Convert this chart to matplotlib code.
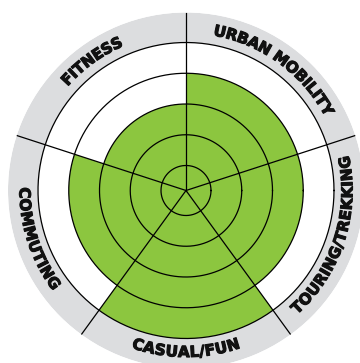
import numpy as np
import matplotlib
matplotlib.use("Agg")
import matplotlib.pyplot as plt
import matplotlib.patheffects as pe
from matplotlib import font_manager
from matplotlib.font_manager import FontProperties

# ---------------- data ----------------
categories = ["URBAN MOBILITY", "TOURING/TREKKING", "CASUAL/FUN", "COMMUTING", "FITNESS"]
levels = [4, 4, 5, 4, 3]
mid_angles = [54, -18, -90, -162, 126]          # degrees, sector centres
label_upright = [True, False, False, False, True]  # True = reads clockwise (top of ring)
rings = [1, 2, 3, 4, 5]

GREEN = "#8cc63f"
GRAY = "#dcdddf"

# ---------------- radial scale ----------------
# pixel radius = (r - R0) * PX_PER_UNIT
PX_PER_UNIT = 30.75
R0 = 1 - 25 / PX_PER_UNIT
R_OUT_PX = 178
RMAX = R0 + R_OUT_PX / PX_PER_UNIT
TEXT_R_PX = 162

DPI = 100
fig = plt.figure(figsize=(3.6, 3.63), dpi=DPI)
cx, cy = 186, 363 - 190.5
ax = fig.add_axes([(cx - R_OUT_PX) / 360, (cy - R_OUT_PX) / 363,
                   2 * R_OUT_PX / 360, 2 * R_OUT_PX / 363], projection="polar")
ax.set_ylim(R0, RMAX)
ax.set_axis_off()

# outer grey ring
ax.bar(0, RMAX - 5, width=2 * np.pi, bottom=5, color=GRAY, edgecolor="none", zorder=1)

# green sectors
theta = np.deg2rad(mid_angles)
ax.bar(theta, np.array(levels) - R0, width=2 * np.pi / len(categories), bottom=R0,
       color=GREEN, edgecolor="none", zorder=2)

# rings
t = np.linspace(0, 2 * np.pi, 400)
for r in rings:
    ax.plot(t, np.full_like(t, r), color="black", lw=0.9, zorder=3)

# spokes (sector borders)
for a in mid_angles:
    b = np.deg2rad(a + 36)
    ax.plot([b, b], [R0, RMAX], color="black", lw=0.9, zorder=3)

# ---------------- curved labels ----------------
names = {f.name for f in font_manager.fontManager.ttflist}
if "Liberation Sans Narrow" in names:
    prop = FontProperties(family="Liberation Sans Narrow", weight="bold", size=15)
    tracking = 0.0
else:
    prop = FontProperties(family="DejaVu Sans", weight="bold", size=11)
    tracking = 0.0

renderer = fig.canvas.get_renderer()


def text_w(s):
    w, _, _ = renderer.get_text_width_height_descent(s, prop, ismath=False)
    return w


base = text_w("HH")
r_text = R0 + TEXT_R_PX / PX_PER_UNIT
thick = [pe.withStroke(linewidth=0.8, foreground="#111111")]

for label, mid, upright in zip(categories, mid_angles, label_upright):
    widths = [text_w("H" + c + "H") - base + tracking for c in label]
    total = sum(widths) - tracking
    pos = 0.0
    for c, w in zip(label, widths):
        off = np.rad2deg((pos + (w - tracking) / 2 - total / 2) / TEXT_R_PX)
        if upright:
            ang = mid - off
            rot = ang - 90
        else:
            ang = mid + off
            rot = ang + 90
        ax.text(np.deg2rad(ang), r_text, c, fontproperties=prop, rotation=rot,
                rotation_mode="anchor", ha="center", va="center", color="#111111",
                path_effects=thick, zorder=4)
        pos += w

fig.savefig("out.png", dpi=DPI)
